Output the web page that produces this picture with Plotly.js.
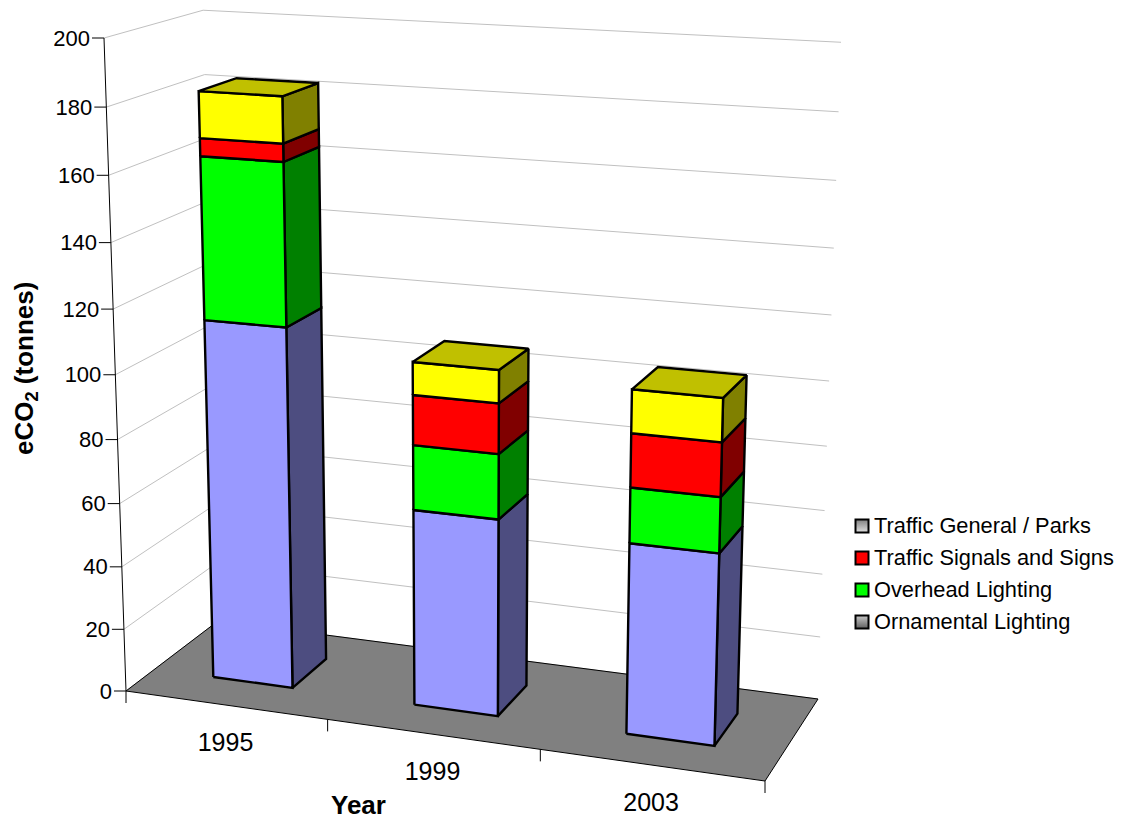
<!DOCTYPE html>
<html>
<head>
<meta charset="utf-8">
<script src="https://cdn.plot.ly/plotly-3.0.1.min.js"></script>
<style>html,body{margin:0;padding:0;background:#fff}#chart{width:1127px;height:822px}</style>
</head>
<body>
<div id="chart"></div>
<script>
// Chart data
const years = ['1995', '1999', '2003'];
const seriesNames = ['Ornamental Lighting', 'Overhead Lighting', 'Traffic Signals and Signs', 'Traffic General / Parks'];
const ornamental = [113.8, 61.6, 58.9];
const overhead = [49.7, 20, 16.8];
const signals = [5.4, 15.3, 16.2];
const general = [13.9, 10, 13];
const stacks = [ornamental, overhead, signals, general];
const valueTicks = [0, 20, 40, 60, 80, 100, 120, 140, 160, 180, 200];
const valueMax = 200;

// Styling
const frontColors = ['#9999FF', '#00FF00', '#FF0000', '#FFFF00'];
const sideColors = ['#4D4D80', '#008000', '#800000', '#808000'];
const topColor = '#C0C000';
const floorColor = '#808080';
const gridColor = '#C0C0C0';
const FONT = '"Liberation Sans", Arial, sans-serif';

// Screen positions of the box corners of the perspective view
const cornerOrigin = [126, 691];
const cornerRight = [765, 781];
const cornerDepth = [218, 621];
const cornerRightDepth = [818, 699];
const cornerUp = [104, 38];
const cornerFar = [841, 42];

// Solve u*a + v*b = c for 2D vectors
function solve2(a, b, c) {
  const det = a[0] * b[1] - a[1] * b[0];
  return [(c[0] * b[1] - c[1] * b[0]) / det, (a[0] * c[1] - a[1] * c[0]) / det];
}
const sub = (a, b) => [a[0] - b[0], a[1] - b[1]];
const [wX, wZ] = solve2(sub(cornerRightDepth, cornerRight), sub(cornerRightDepth, cornerDepth), sub(cornerRightDepth, cornerOrigin));
// Weight of the vertical direction, from the horizontal position of the far top corner
const wY = (wX * cornerRight[0] + wZ * cornerDepth[0] - 2 * cornerOrigin[0] - (wX + wZ - 2) * cornerFar[0]) / (cornerFar[0] - cornerUp[0]);
const axisVec = (c, w) => [w * c[0] - cornerOrigin[0], w * c[1] - cornerOrigin[1]];
const vecX = axisVec(cornerRight, wX), vecY = axisVec(cornerUp, wY), vecZ = axisVec(cornerDepth, wZ);

// Homogeneous projection: u along categories, value up, d into the depth (u, d in 0..1)
function project(u, value, d) {
  const t = value / valueMax;
  const w = 1 + u * (wX - 1) + t * (wY - 1) + d * (wZ - 1);
  return [
    (cornerOrigin[0] + u * vecX[0] + t * vecY[0] + d * vecZ[0]) / w,
    (cornerOrigin[1] + u * vecX[1] + t * vecY[1] + d * vecZ[1]) / w
  ];
}

function polyPath(polys) {
  const xs = [], ys = [];
  polys.forEach(poly => {
    poly.concat([poly[0]]).forEach(p => { xs.push(p[0]); ys.push(p[1]); });
    xs.push(null); ys.push(null);
  });
  return { x: xs, y: ys };
}
function segPath(segs) {
  const xs = [], ys = [];
  segs.forEach(s => { s.forEach(p => { xs.push(p[0]); ys.push(p[1]); }); xs.push(null); ys.push(null); });
  return { x: xs, y: ys };
}

const traces = [];
const addLines = (segs, color, width) => traces.push(Object.assign(segPath(segs), {
  type: 'scatter', mode: 'lines', line: { color, width }, hoverinfo: 'skip', showlegend: false
}));
const addFaces = (polys, fill, name) => traces.push(Object.assign(polyPath(polys), {
  type: 'scatter', mode: 'lines', fill: 'toself', fillcolor: fill, name,
  line: { color: '#000', width: 2.4 }, hoverinfo: 'skip', showlegend: false
}));
const addLabels = (xs, ys, labels, position, size) => traces.push({
  type: 'scatter', mode: 'text', cliponaxis: false, hoverinfo: 'skip', showlegend: false,
  x: xs, y: ys, text: labels, textposition: position,
  textfont: { family: FONT, size, color: '#000' }
});

// Wall gridlines
addLines(valueTicks.map(v => [project(0, v, 0), project(0, v, 1), project(1, v, 1)]), gridColor, 1);

// Floor
traces.push(Object.assign(polyPath([[project(0, 0, 0), project(1, 0, 0), project(1, 0, 1), project(0, 0, 1)]]), {
  type: 'scatter', mode: 'lines', fill: 'toself', fillcolor: floorColor,
  line: { color: '#000', width: 1 }, hoverinfo: 'skip', showlegend: false
}));

// Value axis and its ticks
const tickLen = 12;
addLines([[project(0, 0, 0), project(0, valueMax, 0)]], '#000', 1);
addLines(valueTicks.map(v => { const p = project(0, v, 0); return [[p[0] - tickLen, p[1]], p]; }), '#000', 1);

// Category axis ticks
addLines(years.concat(['']).map((_, i) => {
  const p = project(i / years.length, 0, 0);
  return [p, [p[0], p[1] + tickLen]];
}), '#000', 1);

// Stacked bars: each box spans the middle 40% of its category and of the depth
const gapPart = 0.3, nCat = years.length;
stacks.forEach((vals, s) => {
  const fronts = [], sides = [];
  vals.forEach((v, i) => {
    const base = stacks.slice(0, s).reduce((acc, arr) => acc + arr[i], 0);
    const u0 = (i + gapPart) / nCat, u1 = (i + 1 - gapPart) / nCat;
    fronts.push([project(u0, base, gapPart), project(u1, base, gapPart), project(u1, base + v, gapPart), project(u0, base + v, gapPart)]);
    sides.push([project(u1, base, gapPart), project(u1, base, 1 - gapPart), project(u1, base + v, 1 - gapPart), project(u1, base + v, gapPart)]);
  });
  addFaces(sides, sideColors[s], seriesNames[s]);
  addFaces(fronts, frontColors[s], seriesNames[s]);
});
const totals = years.map((_, i) => stacks.reduce((acc, arr) => acc + arr[i], 0));
addFaces(years.map((_, i) => {
  const u0 = (i + gapPart) / nCat, u1 = (i + 1 - gapPart) / nCat, h = totals[i];
  return [project(u0, h, gapPart), project(u1, h, gapPart), project(u1, h, 1 - gapPart), project(u0, h, 1 - gapPart)];
}), topColor, seriesNames[3]);

// Value tick labels
const valuePts = valueTicks.map(v => project(0, v, 0));
addLabels(valuePts.map(p => p[0] - tickLen - 2), valuePts.map(p => p[1] + 2), valueTicks.map(String), 'middle left', 22);

// Category labels
const catPts = years.map((_, i) => project((i + 0.5) / nCat, 0, 0));
addLabels(catPts.map(p => p[0]), catPts.map(p => p[1] + 40), years, 'middle center', 25);

// Legend, listed from the top of the stack downwards
const legendX = 862, legendTop = 526, legendStep = 32, legendTextGap = 12;
const legendGradient = [
  { type: 'vertical', color: '#606060', base: '#C8C8C8' },
  null,
  null,
  { type: 'vertical', color: '#E0E0E0', base: '#808080' }
];
const legendSolid = ['', '#00FF00', '#FF0000', ''];
seriesNames.forEach((name, s) => {
  const row = seriesNames.length - 1 - s;
  const grad = legendGradient[s];
  traces.push({
    type: 'scatter', mode: 'markers', name, cliponaxis: false, hoverinfo: 'skip', showlegend: false,
    x: [legendX], y: [legendTop + row * legendStep],
    marker: Object.assign({
      symbol: 'square', size: 13, color: grad ? grad.base : legendSolid[s],
      line: { color: '#000', width: 2 }
    }, grad ? { gradient: { type: grad.type, color: grad.color } } : {})
  });
  addLabels([legendX + legendTextGap], [legendTop + row * legendStep + 2], [name], 'middle right', 21.8);
});

const layout = {
  width: 1127, height: 822,
  margin: { l: 0, r: 0, t: 0, b: 0 },
  paper_bgcolor: '#fff', plot_bgcolor: '#fff',
  showlegend: false,
  xaxis: { range: [0, 1127], visible: false, fixedrange: true },
  yaxis: { range: [822, 0], visible: false, fixedrange: true },
  annotations: [
    { xref: 'x', yref: 'y', x: 358, y: 805, text: 'Year', showarrow: false,
      font: { family: FONT, size: 26, weight: 'bold', color: '#000' } },
    { xref: 'x', yref: 'y', x: 25, y: 369, text: 'eCO<sub>2</sub> (tonnes)', showarrow: false, textangle: -90,
      font: { family: FONT, size: 26, weight: 'bold', color: '#000' } }
  ]
};

Plotly.newPlot('chart', traces, layout, { displayModeBar: false, staticPlot: true });
</script>
</body>
</html>
